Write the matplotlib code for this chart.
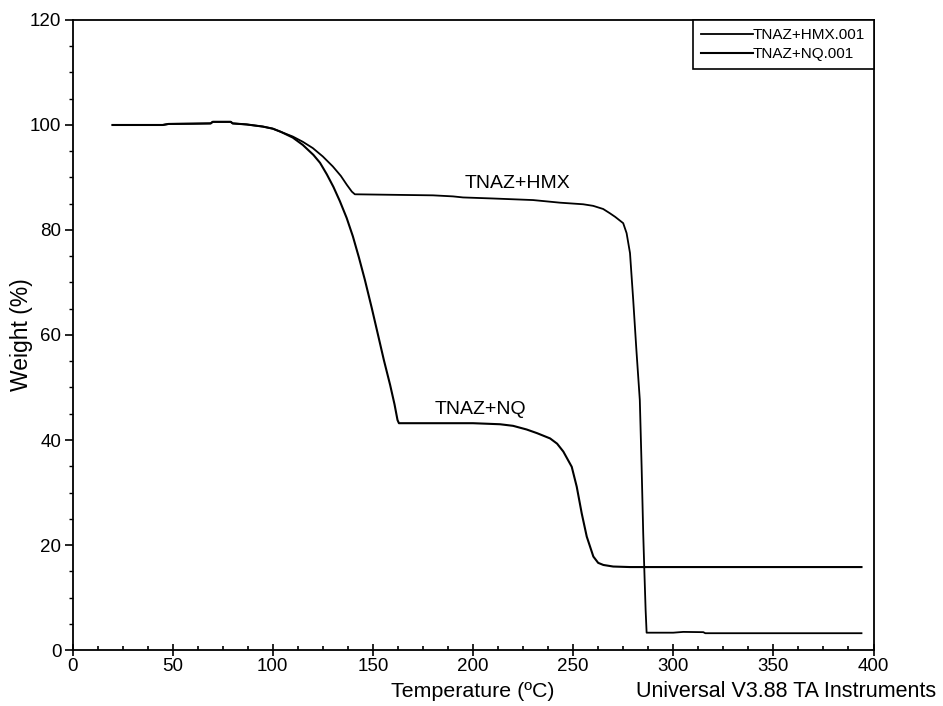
import matplotlib
matplotlib.use('Agg')
import matplotlib.pyplot as plt
from matplotlib.ticker import MultipleLocator

plt.rcParams['font.family'] = ['Liberation Sans', 'DejaVu Sans']

# TGA traces: temperature (°C) vs weight (%)
hmx_temp = [20, 45, 48, 60, 69, 70, 79, 80, 87, 95, 100, 104, 110, 115, 120,
            125, 130, 134, 137, 139.5, 141, 160, 180, 190, 195, 210, 230,
            243.5, 255, 260, 265, 268.3, 271, 275, 276.7, 278.4, 280, 281.6,
            283.3, 284.2, 285.0, 285.5, 286.2, 286.7, 300, 305, 315, 316, 394]
hmx_weight = [100.0, 100.0, 100.2, 100.25, 100.3, 100.6, 100.6, 100.3, 100.1,
              99.7, 99.3, 98.7, 97.8, 96.8, 95.6, 94.0, 92.1, 90.3, 88.6, 87.3,
              86.8, 86.7, 86.6, 86.4, 86.2, 86.0, 85.7, 85.2, 84.9, 84.6, 84.0,
              83.2, 82.5, 81.3, 79.4, 75.6, 66.7, 57.1, 47.6, 34.9, 22.2, 15.9,
              7.6, 3.3, 3.3, 3.45, 3.4, 3.2, 3.2]

nq_temp = [20, 45, 48, 60, 69, 70, 79, 80, 87, 95, 100, 104, 110, 115, 120.3,
           123.6, 127, 130.3, 133.5, 136.9, 140, 143, 146, 149.4, 152.7, 155.5,
           158.6, 160.8, 162.3, 163, 180, 200, 213.5, 220, 226.8, 232, 238.5,
           242, 245.1, 249.3, 251.8, 254.3, 256.8, 260.1, 262.5, 265.1, 270,
           278.4, 300, 394]
nq_weight = [100.0, 100.0, 100.2, 100.25, 100.3, 100.6, 100.6, 100.3, 100.1,
             99.7, 99.3, 98.7, 97.6, 96.2, 94.3, 92.8, 90.6, 88.2, 85.5, 82.3,
             78.8, 74.8, 70.5, 65.2, 59.8, 55.2, 50.5, 46.8, 43.8, 43.2, 43.2,
             43.2, 43.0, 42.7, 42.0, 41.3, 40.3, 39.3, 37.8, 34.9, 31.1, 26.0,
             21.6, 17.8, 16.6, 16.2, 15.9, 15.8, 15.8, 15.8]

fig = plt.figure(figsize=(9.43, 7.06), dpi=100)
ax = fig.add_axes([0.0769, 0.0793, 0.8494, 0.8924])

ax.plot(hmx_temp, hmx_weight, color='black', lw=1.3, label='TNAZ+HMX.001')
ax.plot(nq_temp, nq_weight, color='black', lw=1.5, label='TNAZ+NQ.001')

ax.text(222, 88.8, 'TNAZ+HMX', fontsize=14, ha='center', va='center')
ax.text(203.5, 45.8, 'TNAZ+NQ', fontsize=14, ha='center', va='center')

ax.set_xlim(0, 400)
ax.set_ylim(0, 120)
ax.xaxis.set_major_locator(MultipleLocator(50))
ax.xaxis.set_minor_locator(MultipleLocator(12.5))
ax.yaxis.set_major_locator(MultipleLocator(20))
ax.yaxis.set_minor_locator(MultipleLocator(5))
ax.tick_params(axis='x', which='major', direction='inout', length=8, width=1.2,
               labelsize=13.5, pad=2)
ax.tick_params(axis='x', which='minor', direction='in', length=3, width=1.2)
ax.tick_params(axis='y', which='major', direction='out', length=6, width=1.2,
               labelsize=13.5, pad=2)
ax.tick_params(axis='y', which='minor', direction='out', length=3, width=1.0)

for side in ['left', 'bottom', 'right', 'top']:
    ax.spines[side].set_linewidth(1.3)

ax.set_xlabel('Temperature (ºC)', fontsize=15.4, labelpad=5)
ax.set_ylabel('Weight (%)', fontsize=16.5, labelpad=-2)

leg = ax.legend(loc='upper right', borderaxespad=0, fontsize=11,
                handlelength=3.4, handletextpad=0.0, fancybox=False,
                framealpha=1, edgecolor='black', borderpad=0.55,
                labelspacing=0.3)
leg.get_frame().set_linewidth(1.2)

fig.text(0.993, 0.02, 'Universal V3.88 TA Instruments', fontsize=15.5,
         ha='right', va='center')

fig.savefig('out.png', dpi=100)
